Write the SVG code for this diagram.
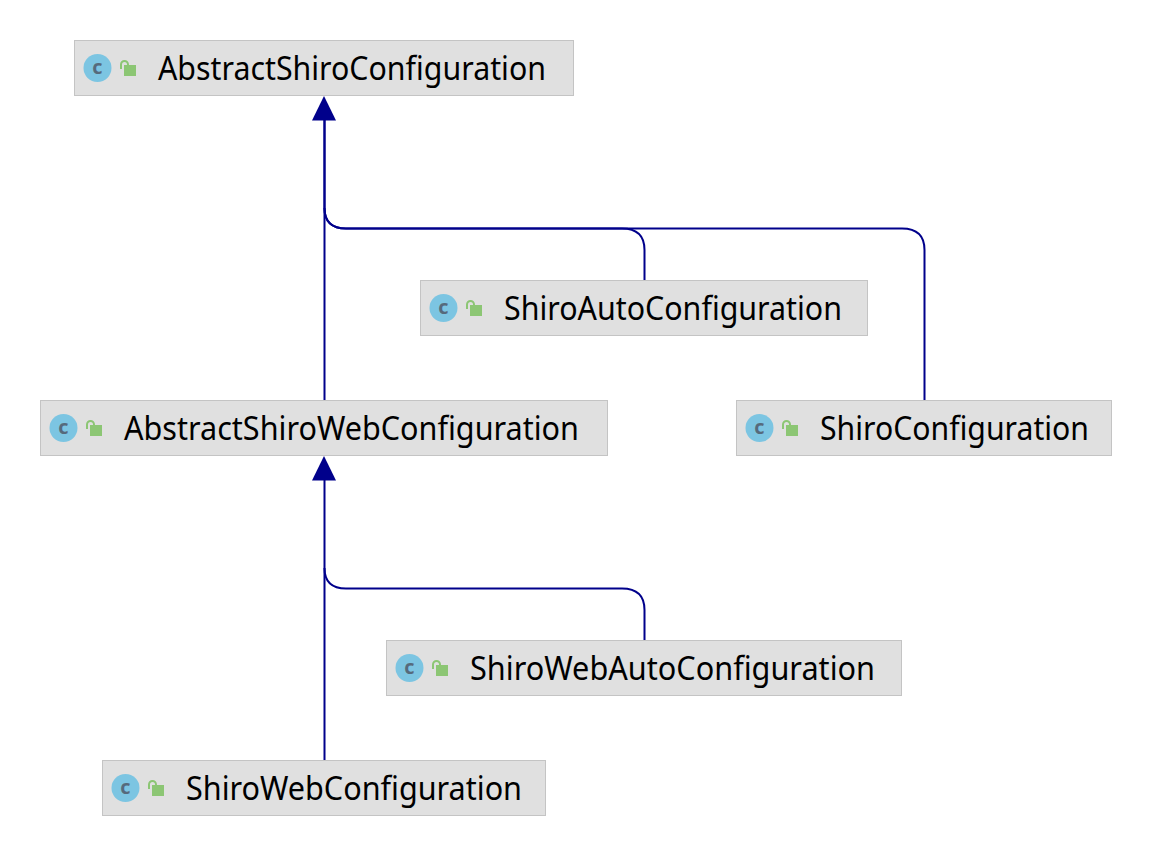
<svg xmlns="http://www.w3.org/2000/svg" xmlns:xlink="http://www.w3.org/1999/xlink" width="1152" height="856" viewBox="0 0 1152 856">
<style>
.box{fill:#e0e0e0;stroke:#c4c4c4;stroke-width:1}
.t{font-family:"Noto Sans","Open Sans","Liberation Sans",sans-serif;font-size:32px;fill:#000}
.c{fill:none;stroke:#00008b;stroke-width:2}
.ci{fill:#7cc5e2}
.cl{font-family:"Open Sans","Liberation Sans",sans-serif;font-size:20px;font-weight:bold;fill:#566a7c;text-anchor:middle}
.lk{fill:#8cc674}
.sh{fill:none;stroke:#8cc674;stroke-width:2}
.a{fill:#00008b}
</style>
<defs>
<g id="icons">
<circle class="ci" cx="14" cy="14" r="14"/>
<text class="cl" x="14" y="20">c</text>
<rect class="lk" x="40.500" y="11" width="12" height="11"/>
<path class="sh" d="M37.500 15v-4.500a3.500 3.500 0 0 1 7 0v1"/>
</g>
</defs>
<rect width="1152" height="856" fill="#fff"/>
<g id="connectors">
<path class="c" d="M324.500 120V400"/>
<path class="c" d="M324.500 120V208Q324.500 228.500 346 228.500H622Q644.500 228.500 644.500 250V280"/>
<path class="c" d="M324.500 208Q324.500 228.500 346 228.500H902Q924.500 228.500 924.500 250V400"/>
<path class="c" d="M324.500 480V760"/>
<path class="c" d="M324.500 568Q324.500 588.500 346 588.500H622Q644.500 588.500 644.500 610V640"/>
<polygon class="a" points="324,96 312,120.500 336,120.500"/>
<polygon class="a" points="324,456 312,480.500 336,480.500"/>
</g>
<g id="AbstractShiroConfiguration">
<rect class="box" x="74.500" y="40.500" width="499" height="55"/>
<use xlink:href="#icons" href="#icons" x="83.500" y="54"/>
<text class="t" x="158" y="80" textLength="388" lengthAdjust="spacingAndGlyphs">AbstractShiroConfiguration</text>
</g>
<g id="ShiroAutoConfiguration">
<rect class="box" x="420.500" y="280.500" width="447" height="55"/>
<use xlink:href="#icons" href="#icons" x="429.500" y="294"/>
<text class="t" x="504" y="320" textLength="338" lengthAdjust="spacingAndGlyphs">ShiroAutoConfiguration</text>
</g>
<g id="AbstractShiroWebConfiguration">
<rect class="box" x="40.500" y="400.500" width="567" height="55"/>
<use xlink:href="#icons" href="#icons" x="49.500" y="414"/>
<text class="t" x="124" y="440" textLength="455" lengthAdjust="spacingAndGlyphs">AbstractShiroWebConfiguration</text>
</g>
<g id="ShiroConfiguration">
<rect class="box" x="736.500" y="400.500" width="375" height="55"/>
<use xlink:href="#icons" href="#icons" x="745.500" y="414"/>
<text class="t" x="820" y="440" textLength="269" lengthAdjust="spacingAndGlyphs">ShiroConfiguration</text>
</g>
<g id="ShiroWebAutoConfiguration">
<rect class="box" x="386.500" y="640.500" width="515" height="55"/>
<use xlink:href="#icons" href="#icons" x="395.500" y="654"/>
<text class="t" x="470" y="680" textLength="405" lengthAdjust="spacingAndGlyphs">ShiroWebAutoConfiguration</text>
</g>
<g id="ShiroWebConfiguration">
<rect class="box" x="102.500" y="760.500" width="443" height="55"/>
<use xlink:href="#icons" href="#icons" x="111.500" y="774"/>
<text class="t" x="186" y="800" textLength="336" lengthAdjust="spacingAndGlyphs">ShiroWebConfiguration</text>
</g>
</svg>
